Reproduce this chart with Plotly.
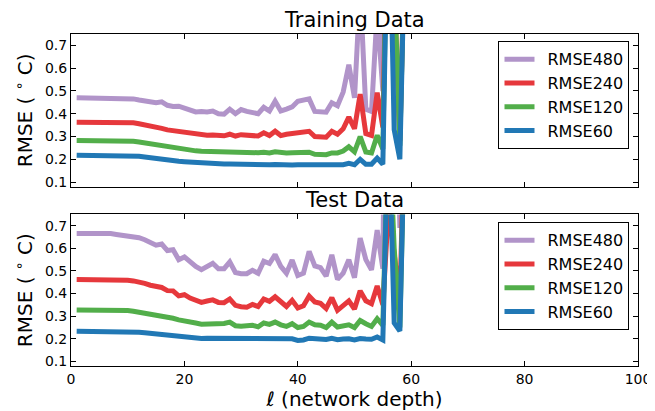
import plotly.graph_objects as go

depth = list(range(1, 60))

series_names = ["RMSE480", "RMSE240", "RMSE120", "RMSE60"]

train_480 = [
    0.470, 0.470, 0.470, 0.470, 0.470, 0.470, 0.470, 0.470, 0.470, 0.468,
    0.465, 0.460, 0.455, 0.450, 0.448, 0.452, 0.437, 0.432, 0.433, 0.425,
    0.415, 0.408, 0.410, 0.408, 0.412, 0.400, 0.398, 0.420, 0.400, 0.418,
    0.410, 0.403, 0.400, 0.428, 0.412, 0.455, 0.412, 0.420, 0.430, 0.455,
    0.458, 0.465, 0.410, 0.408, 0.407, 0.448, 0.435, 0.495, 0.615, 0.470,
    0.950, 0.420, 0.410, 0.850, 0.500, 3.0, 3.0, 3.0, 3.0]
train_240 = [
    0.363, 0.363, 0.363, 0.363, 0.363, 0.363, 0.363, 0.363, 0.363, 0.362,
    0.360, 0.356, 0.352, 0.346, 0.341, 0.336, 0.329, 0.326, 0.321, 0.317,
    0.313, 0.310, 0.308, 0.306, 0.307, 0.304, 0.303, 0.310, 0.302, 0.308,
    0.305, 0.303, 0.302, 0.316, 0.304, 0.323, 0.304, 0.310, 0.314, 0.320,
    0.320, 0.323, 0.300, 0.298, 0.297, 0.323, 0.310, 0.334, 0.385, 0.334,
    0.486, 0.313, 0.305, 0.493, 0.340, 1.6, 1.0, 0.28, 1.3]
train_120 = [
    0.282, 0.282, 0.282, 0.282, 0.282, 0.282, 0.282, 0.282, 0.282, 0.281,
    0.279, 0.276, 0.272, 0.268, 0.263, 0.258, 0.253, 0.249, 0.245, 0.242,
    0.239, 0.237, 0.235, 0.234, 0.233, 0.232, 0.230, 0.232, 0.229, 0.231,
    0.229, 0.228, 0.229, 0.231, 0.228, 0.233, 0.228, 0.228, 0.229, 0.230,
    0.230, 0.231, 0.222, 0.219, 0.220, 0.228, 0.228, 0.236, 0.255, 0.233,
    0.300, 0.232, 0.228, 0.305, 0.245, 1.6, 1.0, 0.26, 1.3]
train_60 = [
    0.218, 0.218, 0.218, 0.218, 0.218, 0.218, 0.218, 0.218, 0.218, 0.217,
    0.215, 0.213, 0.210, 0.206, 0.203, 0.200, 0.197, 0.194, 0.191, 0.189,
    0.187, 0.185, 0.183, 0.182, 0.181, 0.180, 0.179, 0.179, 0.178, 0.177,
    0.177, 0.176, 0.176, 0.175, 0.176, 0.177, 0.175, 0.175, 0.175, 0.176,
    0.176, 0.175, 0.172, 0.171, 0.171, 0.172, 0.174, 0.176, 0.182, 0.176,
    0.200, 0.178, 0.178, 0.205, 0.178, 1.5, 0.33, 0.20, 1.3]

test_480 = [
    0.665, 0.665, 0.664, 0.664, 0.665, 0.667, 0.665, 0.661, 0.658, 0.655,
    0.651, 0.647, 0.638, 0.628, 0.614, 0.619, 0.590, 0.594, 0.550, 0.562,
    0.540, 0.520, 0.506, 0.518, 0.534, 0.510, 0.510, 0.540, 0.493, 0.488,
    0.488, 0.503, 0.490, 0.543, 0.533, 0.572, 0.520, 0.490, 0.548, 0.480,
    0.490, 0.586, 0.522, 0.515, 0.477, 0.571, 0.463, 0.490, 0.550, 0.470,
    0.645, 0.550, 0.505, 0.680, 0.510, 3.0, 3.0, 0.690, 3.0]
test_240 = [
    0.462, 0.462, 0.462, 0.462, 0.462, 0.462, 0.462, 0.462, 0.461, 0.459,
    0.456, 0.452, 0.445, 0.437, 0.430, 0.427, 0.413, 0.412, 0.390, 0.395,
    0.380, 0.370, 0.361, 0.367, 0.372, 0.361, 0.360, 0.376, 0.348, 0.342,
    0.340, 0.352, 0.343, 0.376, 0.366, 0.386, 0.365, 0.343, 0.370, 0.336,
    0.346, 0.389, 0.363, 0.357, 0.334, 0.382, 0.326, 0.345, 0.368, 0.332,
    0.412, 0.368, 0.355, 0.434, 0.350, 0.78, 0.57, 0.37, 1.3]
test_120 = [
    0.328, 0.328, 0.328, 0.328, 0.328, 0.328, 0.328, 0.328, 0.327, 0.325,
    0.322, 0.318, 0.313, 0.308, 0.303, 0.299, 0.295, 0.291, 0.284, 0.281,
    0.276, 0.270, 0.265, 0.266, 0.267, 0.266, 0.268, 0.274, 0.258, 0.256,
    0.257, 0.260, 0.253, 0.270, 0.264, 0.274, 0.262, 0.255, 0.267, 0.250,
    0.255, 0.274, 0.262, 0.260, 0.250, 0.274, 0.252, 0.256, 0.262, 0.250,
    0.281, 0.267, 0.255, 0.289, 0.260, 1.2, 0.6, 0.25, 1.3]
test_60 = [
    0.234, 0.234, 0.234, 0.234, 0.234, 0.234, 0.234, 0.234, 0.234, 0.233,
    0.231, 0.229, 0.227, 0.224, 0.221, 0.218, 0.215, 0.213, 0.211, 0.208,
    0.206, 0.204, 0.202, 0.203, 0.203, 0.202, 0.202, 0.203, 0.198, 0.198,
    0.198, 0.200, 0.199, 0.203, 0.200, 0.202, 0.200, 0.198, 0.200, 0.193,
    0.195, 0.203, 0.200, 0.199, 0.197, 0.202, 0.196, 0.199, 0.200, 0.195,
    0.201, 0.199, 0.198, 0.208, 0.195, 1.2, 0.27, 0.235, 1.3]

x_ticks = [0, 20, 40, 60, 80, 100]
y_ticks = [0.1, 0.2, 0.3, 0.4, 0.5, 0.6, 0.7]

colors = ["#b194c9", "#e6383c", "#52ae4a", "#2178b5"]
train = [train_480, train_240, train_120, train_60]
test = [test_480, test_240, test_120, test_60]

pad = "\u2002"  # en-space gap between legend sample and label

fig = go.Figure()
for name, col, ys in zip(series_names, colors, train):
    fig.add_trace(go.Scatter(x=depth, y=ys, mode="lines", name=pad + name,
                             line=dict(color=col, width=5),
                             xaxis="x", yaxis="y", legend="legend"))
for name, col, ys in zip(series_names, colors, test):
    fig.add_trace(go.Scatter(x=depth, y=ys, mode="lines", name=pad + name,
                             line=dict(color=col, width=5),
                             xaxis="x2", yaxis="y2", legend="legend2"))

ax_common = dict(showline=True, linecolor="black", linewidth=1, mirror="ticks",
                 ticks="inside", ticklen=5, tickcolor="black", showgrid=False,
                 zeroline=False, tickfont=dict(size=14))

ytitle = dict(text="RMSE ( <sup>∘</sup> C)", font=dict(size=20), standoff=6)

leg_common = dict(xanchor="right", yanchor="top", bordercolor="black", borderwidth=1,
                  bgcolor="white", font=dict(size=16), itemwidth=30)

fig.update_layout(
    width=655, height=411,
    margin=dict(l=63, r=13, t=26, b=50),
    paper_bgcolor="white", plot_bgcolor="white",
    font=dict(family="DejaVu Sans", color="black"),
    xaxis=dict(domain=[0, 1], anchor="y", range=[0, 100], tickvals=x_ticks,
               showticklabels=False, **ax_common),
    yaxis=dict(domain=[0.5403, 1], anchor="x", range=[0.08, 0.75], tickvals=y_ticks,
               tickformat=".1f", title=ytitle, **ax_common),
    xaxis2=dict(domain=[0, 1], anchor="y2", range=[0, 100], tickvals=x_ticks,
                ticklabeloverflow="allow",
                title=dict(text="<i>ℓ</i> (network depth)", font=dict(size=20), standoff=6),
                **ax_common),
    yaxis2=dict(domain=[0, 0.4567], anchor="x2", range=[0.08, 0.75], tickvals=y_ticks,
                tickformat=".1f", title=ytitle, **ax_common),
    legend=dict(x=0.985, y=0.978, **leg_common),
    legend2=dict(x=0.985, y=0.433, **leg_common),
    annotations=[
        dict(text="Training Data", x=0.5, y=1, xref="paper", yref="paper",
             xanchor="center", yanchor="bottom", showarrow=False, font=dict(size=21)),
        dict(text="Test Data", x=0.5, y=0.4567, xref="paper", yref="paper",
             xanchor="center", yanchor="bottom", showarrow=False, font=dict(size=21)),
    ],
)

fig.write_html("out.html")
